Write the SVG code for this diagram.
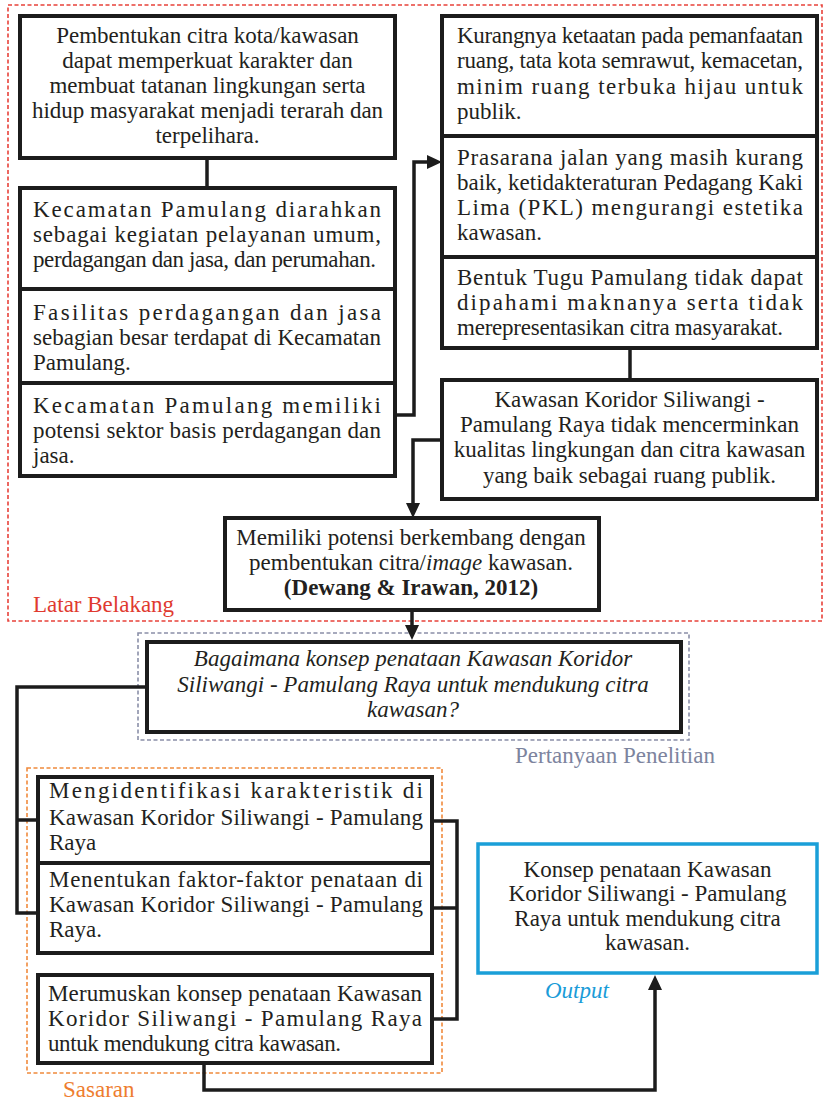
<svg xmlns="http://www.w3.org/2000/svg" width="824" height="1100" viewBox="0 0 824 1100">
<style>
.box{fill:#fff;stroke:#1c1c1c;stroke-width:4}
.t{font-family:"Liberation Serif","Times New Roman",serif;font-size:23px;fill:#231f20}
.c{text-anchor:middle}
.i{font-style:italic}
.b{font-weight:bold}
.conn{fill:none;stroke:#1c1c1c;stroke-width:3.5}
.frame{fill:none;stroke-width:1.6;stroke-dasharray:4 2.5}
</style>
<defs>
<marker id="ah" markerWidth="15" markerHeight="14" refX="8" refY="7" orient="auto" markerUnits="userSpaceOnUse">
<path d="M0,0 L15,7 L0,14 z" fill="#1c1c1c"/>
</marker>
</defs>

<g id="frames">
<rect class="frame" x="8" y="5" width="814" height="616" stroke="#e8413a"/>
<text class="t" x="33" y="612" style="fill:#e03a2f">Latar Belakang</text>
<rect class="frame" x="138" y="633" width="551" height="107" stroke="#8a8fa8"/>
<text class="t" x="515" y="763" style="fill:#7d849e">Pertanyaan Penelitian</text>
<rect class="frame" x="27" y="768" width="415" height="305" stroke="#f08a3c"/>
<text class="t" x="63" y="1097" style="fill:#ee7d2f">Sasaran</text>
<text class="t i" x="545" y="998" style="fill:#1a9cd8">Output</text>
</g>

<g id="connectors">
<path class="conn" d="M207,159 V187"/>
<path class="conn" d="M396,415 H414 V162 H435" marker-end="url(#ah)"/>
<path class="conn" d="M630,349 V379"/>
<path class="conn" d="M441,440 H413 V511" marker-end="url(#ah)"/>
<path class="conn" d="M412,612 V633" marker-end="url(#ah)"/>
<path class="conn" d="M146,687 H17 V913 H37 M17,820 H37"/>
<path class="conn" d="M432,821 H457 V1019 H432 M432,908 H457"/>
<path class="conn" d="M204,1063 V1090 H655 V982" marker-end="url(#ah)"/>
</g>

<g id="n1">
<rect class="box" x="20" y="16" width="375" height="142"/>
<text class="t c" x="207.5" y="43">Pembentukan citra kota/kawasan</text>
<text class="t c" x="207.5" y="68">dapat memperkuat karakter dan</text>
<text class="t c" x="207.5" y="93">membuat tatanan lingkungan serta</text>
<text class="t c" x="207.5" y="118">hidup masyarakat menjadi terarah dan</text>
<text class="t c" x="207.5" y="143">terpelihara.</text>
</g>

<g id="n2">
<rect class="box" x="20" y="188" width="375" height="101"/>
<text class="t" x="33" y="217" textLength="348" lengthAdjust="spacing">Kecamatan Pamulang diarahkan</text>
<text class="t" x="33" y="242" textLength="348" lengthAdjust="spacing">sebagai kegiatan pelayanan umum,</text>
<text class="t" x="33" y="267" textLength="343" lengthAdjust="spacing">perdagangan dan jasa, dan perumahan.</text>
</g>

<g id="n3">
<rect class="box" x="20" y="289" width="375" height="94"/>
<text class="t" x="33" y="320" textLength="348" lengthAdjust="spacing">Fasilitas perdagangan dan jasa</text>
<text class="t" x="33" y="345" textLength="348" lengthAdjust="spacing">sebagian besar terdapat di Kecamatan</text>
<text class="t" x="33" y="370">Pamulang.</text>
</g>

<g id="n4">
<rect class="box" x="20" y="383" width="375" height="93"/>
<text class="t" x="33" y="413" textLength="348" lengthAdjust="spacing">Kecamatan Pamulang memiliki</text>
<text class="t" x="33" y="438" textLength="348" lengthAdjust="spacing">potensi sektor basis perdagangan dan</text>
<text class="t" x="33" y="463">jasa.</text>
</g>

<g id="r1">
<rect class="box" x="442" y="16" width="375" height="120"/>
<text class="t" x="457" y="43" textLength="346" lengthAdjust="spacing">Kurangnya ketaatan pada pemanfaatan</text>
<text class="t" x="457" y="68" textLength="346" lengthAdjust="spacing">ruang, tata kota semrawut, kemacetan,</text>
<text class="t" x="457" y="94" textLength="346" lengthAdjust="spacing">minim ruang terbuka hijau untuk</text>
<text class="t" x="457" y="119">publik.</text>
</g>

<g id="r2">
<rect class="box" x="442" y="136" width="375" height="121"/>
<text class="t" x="457" y="165" textLength="346" lengthAdjust="spacing">Prasarana jalan yang masih kurang</text>
<text class="t" x="457" y="190" textLength="346" lengthAdjust="spacing">baik, ketidakteraturan Pedagang Kaki</text>
<text class="t" x="457" y="215" textLength="346" lengthAdjust="spacing">Lima (PKL) mengurangi estetika</text>
<text class="t" x="457" y="240">kawasan.</text>
</g>

<g id="r3">
<rect class="box" x="442" y="257" width="375" height="91"/>
<text class="t" x="457" y="285" textLength="346" lengthAdjust="spacing">Bentuk Tugu Pamulang tidak dapat</text>
<text class="t" x="457" y="310" textLength="346" lengthAdjust="spacing">dipahami maknanya serta tidak</text>
<text class="t" x="457" y="335" textLength="326" lengthAdjust="spacing">merepresentasikan citra masyarakat.</text>
</g>

<g id="r4">
<rect class="box" x="442" y="380" width="375" height="119"/>
<text class="t c" x="629.5" y="407">Kawasan Koridor Siliwangi -</text>
<text class="t c" x="629.5" y="432">Pamulang Raya tidak mencerminkan</text>
<text class="t c" x="629.5" y="457">kualitas lingkungan dan citra kawasan</text>
<text class="t c" x="629.5" y="483">yang baik sebagai ruang publik.</text>
</g>

<g id="m">
<rect class="box" x="225" y="518" width="374" height="92"/>
<text class="t c" x="411" y="545">Memiliki potensi berkembang dengan</text>
<text class="t c" x="411" y="570">pembentukan citra/<tspan class="i">image</tspan> kawasan.</text>
<text class="t c b" x="411" y="595">(Dewang &amp; Irawan, 2012)</text>
</g>

<g id="q">
<rect class="box" x="147" y="642" width="534" height="90"/>
<text class="t c i" x="413" y="666">Bagaimana konsep penataan Kawasan Koridor</text>
<text class="t c i" x="413" y="692">Siliwangi - Pamulang Raya untuk mendukung citra</text>
<text class="t c i" x="413" y="717">kawasan?</text>
</g>

<g id="s1">
<rect class="box" x="38" y="777" width="394" height="86"/>
<text class="t" x="49" y="798" textLength="374" lengthAdjust="spacing">Mengidentifikasi karakteristik di</text>
<text class="t" x="49" y="825" textLength="374" lengthAdjust="spacing">Kawasan Koridor Siliwangi - Pamulang</text>
<text class="t" x="49" y="850">Raya</text>
</g>

<g id="s2">
<rect class="box" x="38" y="863" width="394" height="90"/>
<text class="t" x="49" y="887" textLength="374" lengthAdjust="spacing">Menentukan faktor-faktor penataan di</text>
<text class="t" x="49" y="912" textLength="374" lengthAdjust="spacing">Kawasan Koridor Siliwangi - Pamulang</text>
<text class="t" x="49" y="937">Raya.</text>
</g>

<g id="s3">
<rect class="box" x="38" y="975" width="394" height="88"/>
<text class="t" x="48" y="1001" textLength="374" lengthAdjust="spacing">Merumuskan konsep penataan Kawasan</text>
<text class="t" x="48" y="1026" textLength="374" lengthAdjust="spacing">Koridor Siliwangi - Pamulang Raya</text>
<text class="t" x="48" y="1051" textLength="293" lengthAdjust="spacing">untuk mendukung citra kawasan.</text>
</g>

<g id="out">
<rect x="478" y="844" width="339" height="129" fill="#fff" stroke="#1a9fd8" stroke-width="3.5"/>
<text class="t c" x="647.5" y="877">Konsep penataan Kawasan</text>
<text class="t c" x="647.5" y="901">Koridor Siliwangi - Pamulang</text>
<text class="t c" x="647.5" y="926">Raya untuk mendukung citra</text>
<text class="t c" x="647.5" y="950">kawasan.</text>
</g>
</svg>
